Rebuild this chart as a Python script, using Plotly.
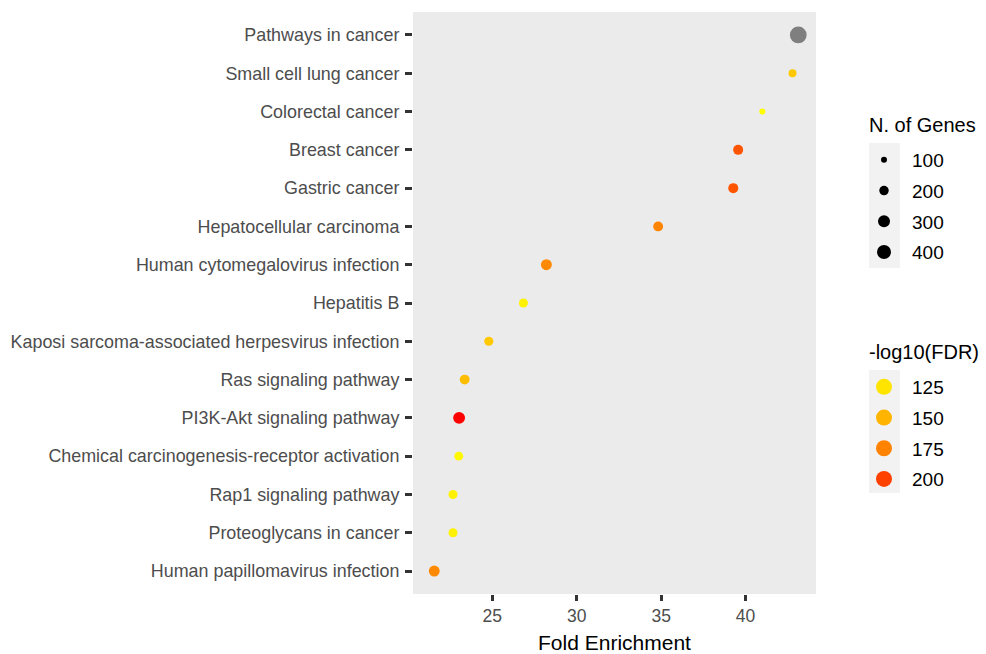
import math
import plotly.graph_objects as go

pathways = ["Pathways in cancer", "Small cell lung cancer", "Colorectal cancer",
            "Breast cancer", "Gastric cancer", "Hepatocellular carcinoma",
            "Human cytomegalovirus infection", "Hepatitis B",
            "Kaposi sarcoma-associated herpesvirus infection", "Ras signaling pathway",
            "PI3K-Akt signaling pathway", "Chemical carcinogenesis-receptor activation",
            "Rap1 signaling pathway", "Proteoglycans in cancer",
            "Human papillomavirus infection"]
fold_enrichment = [43.12, 42.78, 40.99, 39.56, 39.27, 34.82, 28.20, 26.84,
                   24.79, 23.36, 23.03, 23.01, 22.67, 22.67, 21.56]
n_genes = [560, 150, 100, 220, 220, 215, 255, 185, 190, 215, 300, 180, 185, 185, 255]
neg_log10_fdr = [None, 140, 110, 194, 194, 174, 172, 117, 140, 146, 212, 114, 117, 117, 172]

size_legend = [100, 200, 300, 400]
color_legend = [125, 150, 175, 200]
x_ticks = [25, 30, 35, 40]

CMIN, CMAX = 110, 210


# --- colour helpers: ggplot-like Lab interpolation yellow -> red ---
def srgb_to_lab(rgb):
    def lin(c):
        c = c / 255
        return c / 12.92 if c <= 0.04045 else ((c + 0.055) / 1.055) ** 2.4
    r, g, b = [lin(c) for c in rgb]
    X = 0.4124 * r + 0.3576 * g + 0.1805 * b
    Y = 0.2126 * r + 0.7152 * g + 0.0722 * b
    Z = 0.0193 * r + 0.1192 * g + 0.9505 * b
    X, Y, Z = X / 0.95047, Y, Z / 1.08883
    def f(t):
        return t ** (1 / 3) if t > 0.008856 else 7.787 * t + 16 / 116
    fx, fy, fz = f(X), f(Y), f(Z)
    return (116 * fy - 16, 500 * (fx - fy), 200 * (fy - fz))


def lab_to_srgb(lab):
    L, a, b = lab
    fy = (L + 16) / 116
    fx = fy + a / 500
    fz = fy - b / 200
    def finv(t):
        return t ** 3 if t > 0.2069 else (t - 16 / 116) / 7.787
    X, Y, Z = 0.95047 * finv(fx), finv(fy), 1.08883 * finv(fz)
    r = 3.2406 * X - 1.5372 * Y - 0.4986 * Z
    g = -0.9689 * X + 1.8758 * Y + 0.0415 * Z
    bb = 0.0557 * X - 0.2040 * Y + 1.0570 * Z
    def gam(c):
        c = max(0.0, min(1.0, c))
        return 12.92 * c if c <= 0.0031308 else 1.055 * c ** (1 / 2.4) - 0.055
    return tuple(int(round(gam(c) * 255)) for c in (r, g, bb))


LOW = srgb_to_lab((255, 255, 0))
HIGH = srgb_to_lab((255, 0, 0))


def col_at(t):
    t = max(0.0, min(1.0, t))
    lab = tuple(LOW[i] + (HIGH[i] - LOW[i]) * t for i in range(3))
    r, g, b = lab_to_srgb(lab)
    return f"rgb({r},{g},{b})"


colorscale = [[i / 20, col_at(i / 20)] for i in range(21)]


def diam(n):
    return math.sqrt(max(0.533 * n - 17.3, 4))


fig = go.Figure()

idx_ok = [i for i, v in enumerate(neg_log10_fdr) if v is not None]
idx_na = [i for i, v in enumerate(neg_log10_fdr) if v is None]

fig.add_trace(go.Scatter(
    x=[fold_enrichment[i] for i in idx_na],
    y=[pathways[i] for i in idx_na],
    mode="markers",
    marker=dict(size=[diam(n_genes[i]) for i in idx_na], color="#7f7f7f",
                opacity=1, line=dict(width=0)),
    showlegend=False, hoverinfo="x+y",
))
fig.add_trace(go.Scatter(
    x=[fold_enrichment[i] for i in idx_ok],
    y=[pathways[i] for i in idx_ok],
    mode="markers",
    marker=dict(size=[diam(n_genes[i]) for i in idx_ok],
                color=[neg_log10_fdr[i] for i in idx_ok],
                colorscale=colorscale, cmin=CMIN, cmax=CMAX, showscale=False,
                opacity=1, line=dict(width=0)),
    showlegend=False, hoverinfo="x+y",
))

# legend 1: N. of Genes
for k, n in enumerate(size_legend):
    fig.add_trace(go.Scatter(
        x=[None], y=[None], mode="markers", name=str(n),
        marker=dict(size=diam(n), color="black", opacity=1, line=dict(width=0)),
        legend="legend", legendgroup=f"s{k}", showlegend=True,
    ))
# legend 2: -log10(FDR)
for k, v in enumerate(color_legend):
    fig.add_trace(go.Scatter(
        x=[None], y=[None], mode="markers", name=str(v),
        marker=dict(size=16, color=col_at((v - CMIN) / (CMAX - CMIN)), opacity=1,
                    line=dict(width=0)),
        legend="legend2", legendgroup=f"c{k}", showlegend=True,
    ))

FONT = "Liberation Sans, Arial, sans-serif"
W, H = 986, 654
L, T = 413, 12
R = W - 816
B = H - 594
pw, ph = W - L - R, H - T - B


def px_x(p):
    return (p - L) / pw


def px_y(p):
    return (H - B - p) / ph


legend_common = dict(
    xanchor="left", yanchor="top",
    bgcolor="rgba(0,0,0,0)", borderwidth=0,
    font=dict(family=FONT, size=19, color="black"),
    itemsizing="trace", traceorder="grouped", tracegroupgap=3,
    itemwidth=46,
)

shapes = []
for (x0, y0, x1, y1) in [(869, 143, 900, 268), (869, 370, 900, 493)]:
    shapes.append(dict(type="rect", xref="paper", yref="paper",
                       x0=px_x(x0), x1=px_x(x1), y0=px_y(y1), y1=px_y(y0),
                       fillcolor="#F2F2F2", line=dict(width=0), layer="below"))

annotations = []
for txt, yc in [("N. of Genes", 125), ("-log10(FDR)", 352)]:
    annotations.append(dict(text=txt, xref="paper", yref="paper", x=px_x(867), y=px_y(yc),
                            xanchor="left", yanchor="middle", showarrow=False,
                            font=dict(family=FONT, size=20, color="black")))

fig.update_layout(
    width=W, height=H,
    margin=dict(l=L, r=R, t=T, b=B, autoexpand=False),
    paper_bgcolor="white", plot_bgcolor="#EBEBEB",
    font=dict(family=FONT),
    shapes=shapes,
    annotations=annotations,
    legend=dict(legend_common, x=px_x(856), y=px_y(141)),
    legend2=dict(legend_common, x=px_x(856), y=px_y(368)),
    xaxis=dict(range=[20.30, 44.17], tickvals=x_ticks, ticktext=[str(t) for t in x_ticks],
               showgrid=False, zeroline=False, ticks="outside", ticklen=6, tickwidth=2.5,
               tickcolor="#333333", tickfont=dict(family=FONT, size=17.5, color="#4D4D4D"),
               title=dict(text="Fold Enrichment", font=dict(family=FONT, size=21, color="black"),
                          standoff=13),
               fixedrange=True),
    yaxis=dict(categoryorder="array", categoryarray=pathways[::-1],
               range=[-0.6, len(pathways) - 0.4],
               showgrid=False, zeroline=False, ticks="outside", ticklen=7, tickwidth=2.5,
               tickcolor="#333333", tickfont=dict(family=FONT, size=17.9, color="#4D4D4D"),
               ticklabelstandoff=2,
               fixedrange=True),
)

fig.write_html("out.html", config={"displayModeBar": False},
               post_script="document.body.style.margin='0';")
